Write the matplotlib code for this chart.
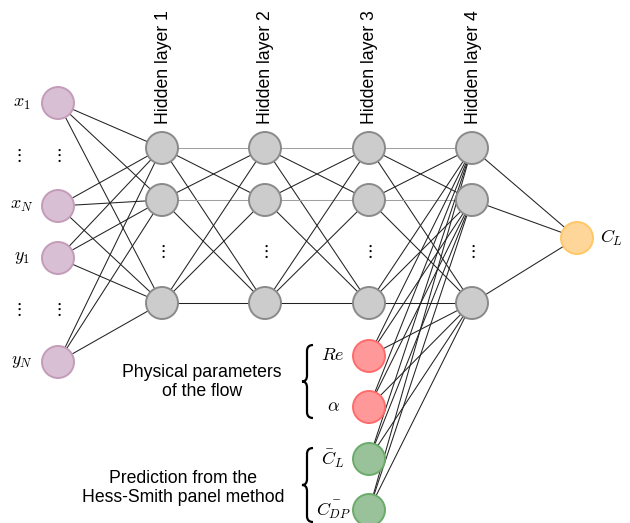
import matplotlib
matplotlib.use("Agg")
import matplotlib.pyplot as plt
from matplotlib.patches import Circle, PathPatch
from matplotlib.path import Path

plt.rcParams['font.family'] = ['Liberation Sans', 'DejaVu Sans']
plt.rcParams['mathtext.fontset'] = 'cm'

# ---- network description ----
layer_x = [58, 162, 265, 369, 472, 577]
input_y = [103, 206, 258, 362]
input_labels = [r'$x_1$', r'$x_N$', r'$y_1$', r'$y_N$']
hidden_y = [148, 200, 303]
hidden_names = ['Hidden layer 1', 'Hidden layer 2', 'Hidden layer 3', 'Hidden layer 4']
extra_y = [356, 407, 459, 510]
extra_labels = [r'$Re$', r'$\alpha$', r'$\bar{C}_L$', r'$\bar{C_{DP}}$']
extra_colors = [('#ff9999', '#ff6b6b'), ('#ff9999', '#ff6b6b'),
                ('#9ac29a', '#6aab6a'), ('#9ac29a', '#6aab6a')]
output_y = 238
R = 16

fig = plt.figure(figsize=(6.3, 5.23), dpi=100)
ax = fig.add_axes([0, 0, 1, 1])
ax.set_xlim(0, 630)
ax.set_ylim(523, 0)
ax.axis('off')


def edge(p, q, color='#222222', lw=0.75):
    ax.plot([p[0], q[0]], [p[1], q[1]], color=color, lw=lw, zorder=1)


def node(x, y, fc, ec):
    ax.add_patch(Circle((x, y), R, facecolor=fc, edgecolor=ec, lw=1.4, zorder=3))


# input -> hidden 1
for yi in input_y:
    for yh in hidden_y:
        edge((layer_x[0], yi), (layer_x[1], yh))

# hidden -> hidden
for k in range(1, 4):
    for ya in hidden_y:
        for yb in hidden_y:
            col = '#a0a0a0' if (ya == yb and ya != hidden_y[-1]) else '#222222'
            edge((layer_x[k], ya), (layer_x[k + 1], yb), color=col)

# extra inputs -> hidden 4
for ye in extra_y:
    for yh in hidden_y:
        edge((layer_x[3], ye), (layer_x[4], yh))

# hidden 4 -> output
for yh in hidden_y:
    edge((layer_x[4], yh), (layer_x[5], output_y))

# nodes
for yi, lab in zip(input_y, input_labels):
    node(layer_x[0], yi, '#d8bfd3', '#c39cb9')
    ax.text(22, yi, lab, fontsize=13, ha='center', va='center')

for k in range(1, 5):
    for yh in hidden_y:
        node(layer_x[k], yh, '#cccccc', '#8a8a8a')
    ax.text(layer_x[k], 252, r'$\vdots$', fontsize=13, ha='center', va='center')
    ax.text(layer_x[k] + 1, 124, hidden_names[k - 1], rotation=90, fontsize=12.7,
            ha='center', va='bottom')

for ye, lab, (fc, ec) in zip(extra_y, extra_labels, extra_colors):
    node(layer_x[3], ye, fc, ec)
    ax.text(333, ye, lab, fontsize=13, ha='center', va='center')

node(layer_x[5], output_y, '#ffd699', '#ffc766')
ax.text(612, output_y, r'$C_L$', fontsize=13, ha='center', va='center')

# dots between inputs
for yd in [155, 309]:
    ax.text(18, yd, r'$\vdots$', fontsize=13, ha='center', va='center')
    ax.text(58, yd, r'$\vdots$', fontsize=13, ha='center', va='center')


def brace(x, y0, y1):
    m = (y0 + y1) / 2
    verts = [(x + 10, y0), (x + 4, y0), (x + 4, y0 + 6),
             (x + 4, m - 6), (x + 4, m), (x - 1, m),
             (x + 4, m), (x + 4, m + 6),
             (x + 4, y1 - 6), (x + 4, y1), (x + 10, y1)]
    codes = [Path.MOVETO, Path.CURVE3, Path.CURVE3,
             Path.LINETO, Path.CURVE3, Path.CURVE3,
             Path.CURVE3, Path.CURVE3,
             Path.LINETO, Path.CURVE3, Path.CURVE3]
    ax.add_patch(PathPatch(Path(verts, codes), fill=False, lw=1.6, color='black'))


brace(303, 345, 418)
brace(303, 448, 522)

ax.text(202, 382, 'Physical parameters\nof the flow', fontsize=12.7,
        ha='center', va='center', linespacing=1.2)
ax.text(183, 488, 'Prediction from the\nHess-Smith panel method', fontsize=12.7,
        ha='center', va='center', linespacing=1.2)

fig.savefig('out.png', dpi=100)
